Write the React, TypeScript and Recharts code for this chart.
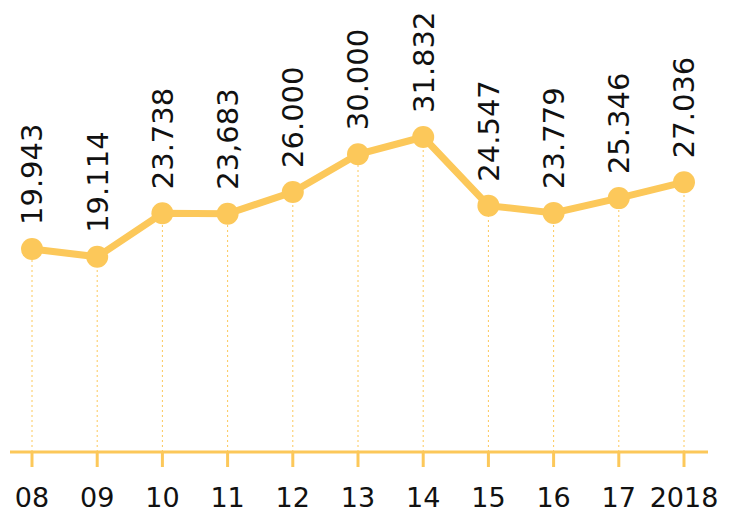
import { LineChart, Line, XAxis, YAxis, ReferenceLine, LabelList } from 'recharts';

const years = ['08', '09', '10', '11', '12', '13', '14', '15', '16', '17', '2018'];
const values = [19943, 19114, 23738, 23683, 26000, 30000, 31832, 24547, 23779, 25346, 27036];
const valueLabels = ['19.943', '19.114', '23.738', '23,683', '26.000', '30.000', '31.832', '24.547', '23.779', '25.346', '27.036'];

const Y_MIN = -1600;
const Y_MAX = 44250;
const GOLD = '#fcc85a';
const FONT = '"DejaVu Sans", sans-serif';

const data = years.map((year, i) => ({ year, value: values[i], label: valueLabels[i] }));

// rotated value label sitting above each dot
const renderLabel = (props: any) => {
  const { x, y, value } = props;
  const tx = x + 10.5;
  const ty = y - 24;
  return (
    <text
      x={tx}
      y={ty}
      transform={`rotate(-90 ${tx} ${ty})`}
      textAnchor="start"
      fontSize={29}
      fontFamily={FONT}
      fill="#111"
    >
      {value}
    </text>
  );
};

export default function App() {
  return (
    <div style={{ position: 'absolute', left: 0, top: 0, width: 731, height: 513, background: '#fff' }}>
      <LineChart width={731} height={513} data={data} margin={{ top: 20, right: 23, bottom: 0, left: 10 }}>
        <XAxis
          dataKey="year"
          height={61}
          interval={0}
          padding={{ left: 22, right: 24 }}
          axisLine={{ stroke: GOLD, strokeWidth: 3 }}
          tickLine={{ stroke: GOLD, strokeWidth: 3 }}
          tickSize={15}
          tickMargin={21}
          tick={{ fill: '#111', fontSize: 27, fontFamily: FONT }}
        />
        <YAxis hide domain={[Y_MIN, Y_MAX]} />
        {data.map((d) => (
          <ReferenceLine
            key={d.year}
            segment={[
              { x: d.year, y: Y_MIN },
              { x: d.year, y: d.value },
            ]}
            stroke={GOLD}
            strokeWidth={1}
            strokeDasharray="2 3"
          />
        ))}
        <Line
          type="linear"
          dataKey="value"
          stroke={GOLD}
          strokeWidth={7}
          dot={{ r: 11, fill: GOLD, stroke: 'none' }}
          activeDot={false}
          isAnimationActive={false}
        >
          <LabelList dataKey="label" content={renderLabel} />
        </Line>
      </LineChart>
    </div>
  );
}
